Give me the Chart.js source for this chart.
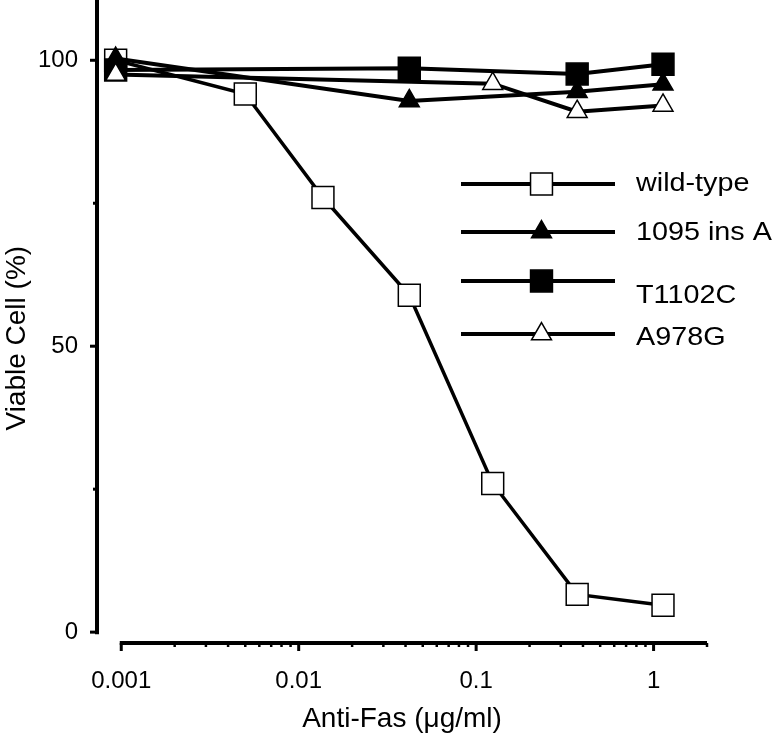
<!DOCTYPE html>
<html>
<head>
<meta charset="utf-8">
<script src="https://cdn.jsdelivr.net/npm/chart.js@4.4.1/dist/chart.umd.min.js"></script>
<style>
  body { margin: 0; background: #fff; }
  #wrap { width: 774px; height: 744px; }
</style>
</head>
<body>
<div id="wrap"><canvas id="chart-area" width="774" height="744"></canvas></div>
<script>
// anti-Fas dose (ug/ml)
var doses = [0.00093, 0.005, 0.0137, 0.042, 0.124, 0.371, 1.13];

// viable cells (%), null = no point at that dose
var wildType = [100, 94.1, 76.0, 58.9, 26.0, 6.6, 4.7];
var ins1095A = [100.3, null, null, 92.9, null, 94.5, 95.8];
var t1102C   = [98.3, null, null, 98.6, null, 97.6, 99.3];
var a978G    = [97.5, null, null, null, 95.9, 91.0, 92.1];

var seriesNames = ['wild-type', '1095 ins A', 'T1102C', 'A978G'];

var xTickLabels = [0.001, 0.01, 0.1, 1];
var yTickLabels = [0, 50, 100];
var yMinorTicks = [25, 75];

var FONT = 'Liberation Sans, Arial, Helvetica, sans-serif';

function toPoints(vals) {
    var pts = [];
    for (var i = 0; i < vals.length; i++) {
        if (vals[i] !== null) pts.push({ x: doses[i], y: vals[i] });
    }
    return pts;
}

function makeSet(label, vals, style, fill, radius, width, order) {
    return {
        label: label,
        data: toPoints(vals),
        borderColor: '#000',
        borderWidth: width,
        pointStyle: style,
        pointRadius: radius,
        pointHoverRadius: radius,
        pointBackgroundColor: fill,
        pointBorderColor: '#000',
        pointBorderWidth: 1.5,
        tension: 0,
        clip: false,
        order: order
    };
}

// draw the detached axes of the original figure
var sciAxes = {
    id: 'sciAxes',
    beforeDatasetsDraw: function (chart) {
        var ctx = chart.ctx, x = chart.scales.x, y = chart.scales.y;
        var ax = chart.chartArea.left;
        var y0 = y.getPixelForValue(0);
        var xy = chart.chartArea.bottom;
        ctx.save();
        ctx.strokeStyle = '#000';
        ctx.lineCap = 'butt';

        ctx.lineWidth = 4;
        ctx.beginPath();
        ctx.moveTo(ax, 0);
        ctx.lineTo(ax, y0 + 2);
        ctx.stroke();

        ctx.lineWidth = 3;
        yTickLabels.forEach(function (v) {
            var p = y.getPixelForValue(v);
            ctx.beginPath(); ctx.moveTo(ax - 7, p); ctx.lineTo(ax, p); ctx.stroke();
        });
        yMinorTicks.forEach(function (v) {
            var p = y.getPixelForValue(v);
            ctx.beginPath(); ctx.moveTo(ax - 4, p); ctx.lineTo(ax, p); ctx.stroke();
        });

        var xs = x.getPixelForValue(xTickLabels[0]);
        var xe = chart.chartArea.right;
        ctx.lineWidth = 4;
        ctx.beginPath();
        ctx.moveTo(xs - 1.5, xy);
        ctx.lineTo(xe, xy);
        ctx.stroke();

        ctx.lineWidth = 3;
        xTickLabels.forEach(function (v) {
            var p = x.getPixelForValue(v);
            ctx.beginPath(); ctx.moveTo(p, xy); ctx.lineTo(p, xy + 8); ctx.stroke();
        });
        ctx.lineWidth = 2.5;
        xTickLabels.forEach(function (d) {
            for (var k = 2; k <= 9; k++) {
                var v = d * k;
                if (v > x.max) break;
                var p = x.getPixelForValue(v);
                ctx.beginPath(); ctx.moveTo(p, xy); ctx.lineTo(p, xy + 4); ctx.stroke();
            }
        });
        ctx.restore();
    }
};

// legend with line + marker, as in the figure
var legendRowY = [184, 232, 281, 334];
var legendTextY = [184, 233, 296, 338];
var lineLegend = {
    id: 'lineLegend',
    afterDraw: function (chart) {
        var ctx = chart.ctx;
        ctx.save();
        chart.data.datasets.forEach(function (ds, i) {
            var ly = legendRowY[i];
            ctx.strokeStyle = '#000';
            ctx.lineWidth = 4;
            ctx.beginPath(); ctx.moveTo(461, ly); ctx.lineTo(615, ly); ctx.stroke();
            ctx.fillStyle = ds.pointBackgroundColor;
            ctx.lineWidth = ds.pointBorderWidth;
            Chart.helpers.drawPoint(ctx, {
                pointStyle: ds.pointStyle,
                radius: ds.pointRadius,
                rotation: 0,
                borderWidth: ds.pointBorderWidth
            }, 541.5, ly);
            // the figure's lettering is wider than Arial
            ctx.save();
            ctx.translate(636, legendTextY[i]);
            ctx.scale(1.15, 1);
            ctx.fillStyle = '#000';
            ctx.font = '25px ' + FONT;
            ctx.textAlign = 'left';
            ctx.textBaseline = 'middle';
            ctx.fillText(ds.label, 0, 0);
            ctx.restore();
        });
        ctx.restore();
    }
};

var config = {
    type: 'line',
    data: {
        datasets: [
            makeSet(seriesNames[0], wildType, 'rect', '#fff', 15.5, 3.5, 3),
            makeSet(seriesNames[1], ins1095A, 'triangle', '#000', 11.5, 4, 1),
            makeSet(seriesNames[2], t1102C, 'rect', '#000', 15.5, 4, 2),
            makeSet(seriesNames[3], a978G, 'triangle', '#fff', 11.5, 4, 0)
        ]
    },
    options: {
        responsive: false,
        devicePixelRatio: 1,
        animation: false,
        layout: { padding: { left: 0, right: 67, top: 0, bottom: 0 } },
        plugins: {
            legend: { display: false },
            tooltip: { enabled: false }
        },
        scales: {
            x: {
                type: 'logarithmic',
                position: 'bottom',
                min: 0.00073,
                max: 2,
                afterFit: function (s) { s.height = 101; },
                afterBuildTicks: function (s) {
                    s.ticks = xTickLabels.map(function (v) { return { value: v, major: true }; });
                },
                grid: { display: false, drawTicks: false },
                border: { display: false },
                ticks: {
                    autoSkip: false,
                    maxRotation: 0,
                    padding: 24,
                    color: '#000',
                    font: { family: FONT, size: 24 },
                    callback: function (v) { return String(v); }
                },
                title: {
                    display: true,
                    text: 'Anti-Fas (\u03bcg/ml)',
                    color: '#000',
                    font: { family: FONT, size: 28 },
                    padding: { top: 0, bottom: 8 }
                }
            },
            y: {
                type: 'linear',
                min: -1.9,
                max: 104.7,
                afterFit: function (s) { s.width = 97; },
                afterBuildTicks: function (s) {
                    s.ticks = yTickLabels.map(function (v) { return { value: v }; });
                },
                grid: { display: false, drawTicks: false },
                border: { display: false },
                ticks: {
                    autoSkip: false,
                    padding: 19,
                    color: '#000',
                    font: { family: FONT, size: 24 }
                },
                title: {
                    display: true,
                    text: 'Viable Cell (%)',
                    color: '#000',
                    font: { family: FONT, size: 28 },
                    padding: { top: 0, bottom: 0 }
                }
            }
        }
    },
    plugins: [sciAxes, lineLegend]
};

var ctx = document.getElementById('chart-area').getContext('2d');
var myChart = new Chart(ctx, config);
</script>
</body>
</html>
